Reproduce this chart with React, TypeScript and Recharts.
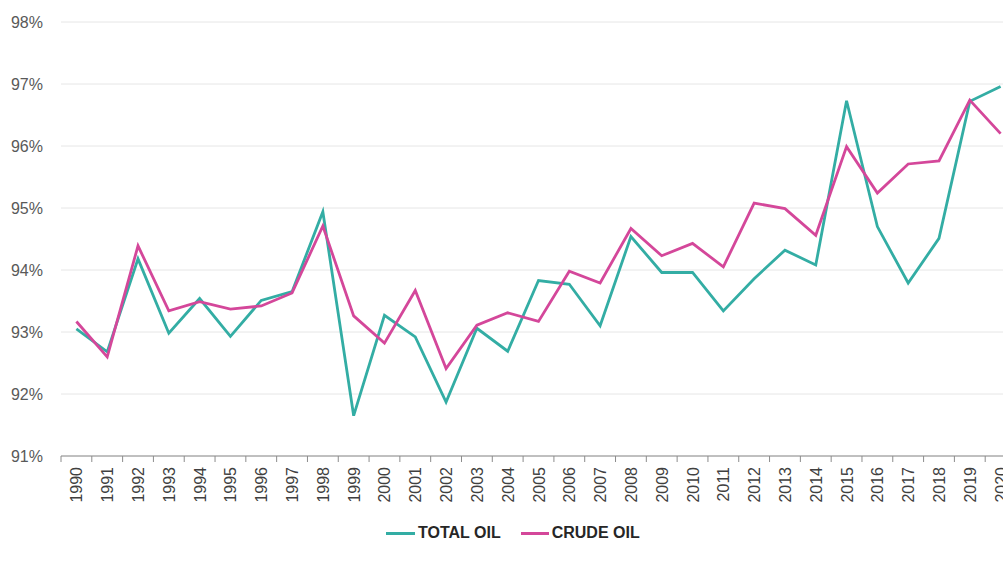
import React from "react";
import { LineChart, Line, XAxis, YAxis, CartesianGrid } from "recharts";

const years = [
  "1990", "1991", "1992", "1993", "1994", "1995", "1996", "1997", "1998", "1999",
  "2000", "2001", "2002", "2003", "2004", "2005", "2006", "2007", "2008", "2009",
  "2010", "2011", "2012", "2013", "2014", "2015", "2016", "2017", "2018", "2019", "2020",
];

const totalOil = [
  93.05, 92.68, 94.18, 92.98, 93.54, 92.93, 93.51, 93.65, 94.94, 91.65,
  93.27, 92.92, 91.87, 93.06, 92.69, 93.83, 93.77, 93.1, 94.54, 93.96,
  93.96, 93.34, 93.86, 94.32, 94.08, 96.73, 94.7, 93.79, 94.51, 96.72, 96.96,
];

const crudeOil = [
  93.17, 92.6, 94.39, 93.34, 93.49, 93.37, 93.42, 93.63, 94.71, 93.26,
  92.82, 93.67, 92.41, 93.11, 93.31, 93.17, 93.98, 93.79, 94.67, 94.23,
  94.43, 94.05, 95.08, 94.99, 94.56, 95.99, 95.24, 95.71, 95.76, 96.74, 96.2,
];

const yTicks = [91, 92, 93, 94, 95, 96, 97, 98];

const data = years.map((year, i) => ({ year, total: totalOil[i], crude: crudeOil[i] }));

const TEAL = "#33ADA4";
const PINK = "#D4479A";
const HALF_BAND = 15.4;

// rotated year label + tick marks on the category boundaries
const YearTick = (props: any) => {
  const { x, y, payload, index } = props;
  const last = index === years.length - 1;
  return (
    <g>
      <line x1={x - HALF_BAND} x2={x - HALF_BAND} y1={y - 8} y2={y - 2} stroke="#8c8c8c" />
      {last && <line x1={x + HALF_BAND} x2={x + HALF_BAND} y1={y - 8} y2={y - 2} stroke="#8c8c8c" />}
      <text
        x={0}
        y={0}
        transform={`translate(${x + 6}, ${y + 3}) rotate(-90)`}
        textAnchor="end"
        fontSize={16}
        fill="#404040"
      >
        {payload.value}
      </text>
    </g>
  );
};

const App: React.FC = () => {
  return (
    <div
      style={{
        position: "absolute",
        left: 0,
        top: 0,
        width: 1003,
        height: 574,
        overflow: "hidden",
        background: "#fff",
        fontFamily: "'Liberation Sans', Arial, sans-serif",
      }}
    >
      <LineChart width={1020} height={574} data={data} margin={{ top: 22, right: 4, bottom: 0, left: 0 }}>
        <CartesianGrid vertical={false} stroke="#e6e6e6" />
        <XAxis
          dataKey="year"
          interval={0}
          height={118}
          padding={{ left: HALF_BAND, right: HALF_BAND }}
          tickLine={false}
          axisLine={{ stroke: "#8c8c8c" }}
          tick={<YearTick />}
        />
        <YAxis
          domain={[91, 98]}
          ticks={yTicks}
          width={61}
          tickLine={false}
          axisLine={false}
          tickMargin={12}
          tick={{ fontSize: 16, fill: "#595959" }}
          tickFormatter={(v: number) => `${v}%`}
        />
        <Line type="linear" dataKey="total" name="TOTAL OIL" stroke={TEAL} strokeWidth={2.8} dot={false} isAnimationActive={false} />
        <Line type="linear" dataKey="crude" name="CRUDE OIL" stroke={PINK} strokeWidth={2.8} dot={false} isAnimationActive={false} />
      </LineChart>
      <div
        style={{
          position: "absolute",
          left: 386,
          top: 524,
          display: "flex",
          alignItems: "center",
          fontSize: 16,
          fontWeight: "bold",
          color: "#262626",
        }}
      >
        <span style={{ display: "inline-block", width: 29, height: 3, background: TEAL, marginRight: 3 }} />
        <span style={{ marginRight: 20 }}>TOTAL OIL</span>
        <span style={{ display: "inline-block", width: 28, height: 3, background: PINK, marginRight: 3 }} />
        <span>CRUDE OIL</span>
      </div>
    </div>
  );
};

export default App;
